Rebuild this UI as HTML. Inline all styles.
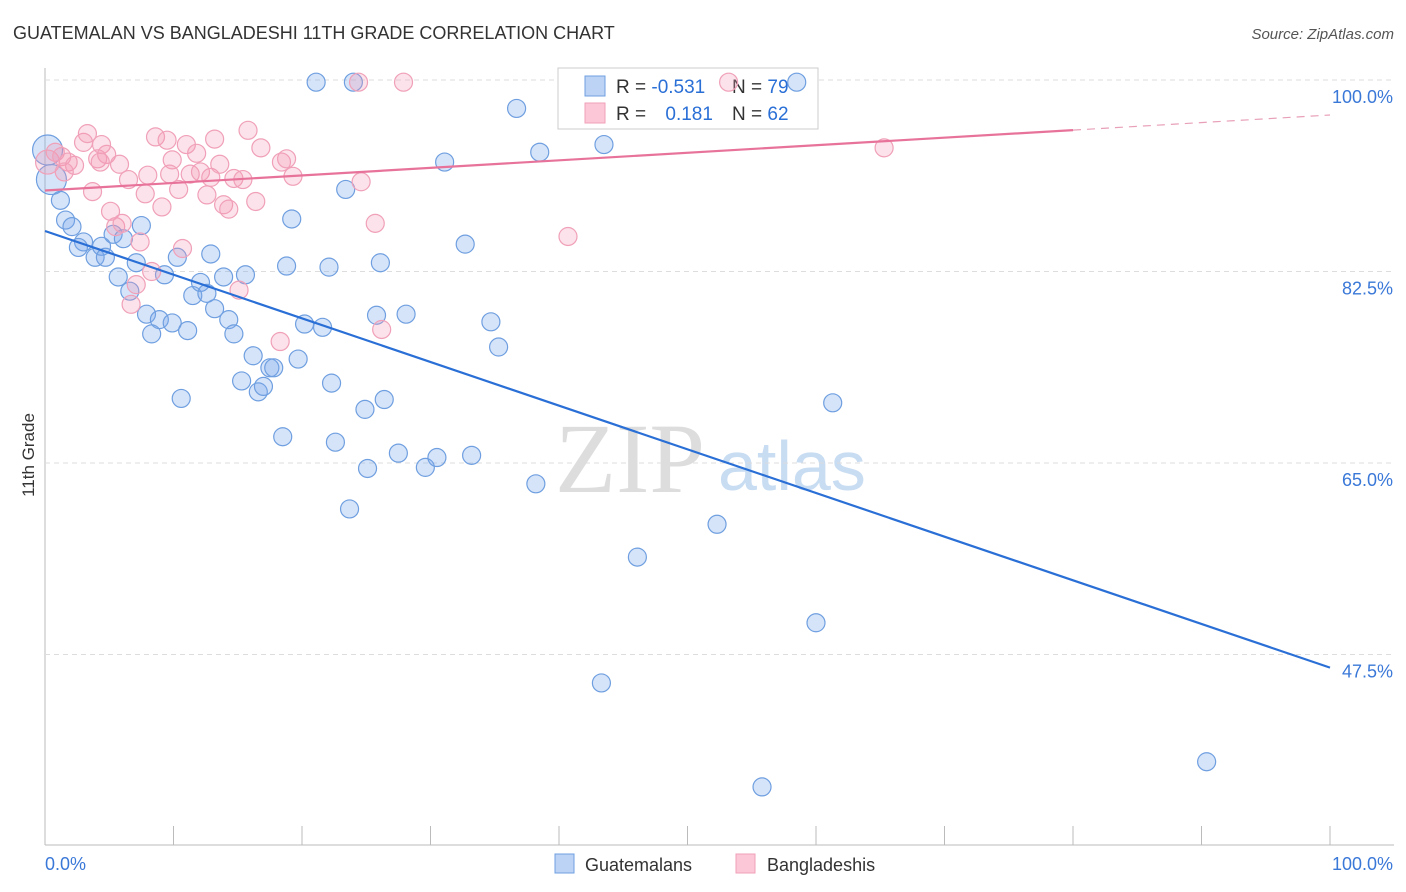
<!DOCTYPE html>
<html><head><meta charset="utf-8"><style>
body{margin:0;background:#fff;font-family:"Liberation Sans",sans-serif;}
#c{position:relative;width:1406px;height:892px;overflow:hidden}
</style></head><body>
<div id="c">
<svg id="s" width="1406" height="892" xmlns="http://www.w3.org/2000/svg">
<text x="13" y="39" font-size="18" fill="#333">GUATEMALAN VS BANGLADESHI 11TH GRADE CORRELATION CHART</text>
<text x="1394" y="39" font-size="15" fill="#555" font-style="italic" text-anchor="end">Source: ZipAtlas.com</text>
<text x="34" y="455" font-size="17" fill="#333" text-anchor="middle" transform="rotate(-90 34 455)">11th Grade</text>
<text x="555" y="492" font-size="100" fill="#ddd" font-family="Liberation Serif">ZIP</text>
<text x="718" y="490" font-size="70" fill="#c8dcf2">atlas</text>
<g id="grid"></g>
<rect x="558" y="68" width="260" height="61" fill="#fff" stroke="#ccc"/>
<rect x="585" y="76" width="20" height="20" fill="#bcd3f5" stroke="#6f9fe0"/>
<rect x="585" y="103" width="20" height="20" fill="#fcc8d8" stroke="#f0a0b8"/>
<text x="616" y="93" font-size="19" fill="#333">R = <tspan fill="#2a6fd6">-0.531</tspan></text>
<text x="732" y="93" font-size="19" fill="#333">N = <tspan fill="#2a6fd6">79</tspan></text>
<text x="616" y="120" font-size="19" fill="#333">R = <tspan fill="#2a6fd6" dx="14">0.181</tspan></text>
<text x="732" y="120" font-size="19" fill="#333">N = <tspan fill="#2a6fd6">62</tspan></text>
<g id="pts"></g><g id="lines"></g>
<rect x="555" y="854" width="19" height="19" fill="#bcd3f5" stroke="#6f9fe0"/>
<text x="585" y="871" font-size="18" fill="#333">Guatemalans</text>
<rect x="736" y="854" width="19" height="19" fill="#fcc8d8" stroke="#f0a0b8"/>
<text x="767" y="871" font-size="18" fill="#333">Bangladeshis</text>
</svg></div>
<script>
const blueX=[0.2,0.5,1.2,1.6,2.1,3.0,2.6,3.9,4.4,4.7,5.3,6.1,7.5,5.7,6.6,7.1,7.9,8.3,8.9,9.3,9.9,10.3,10.6,11.1,11.5,12.1,12.6,12.9,13.2,13.9,14.3,14.7,15.3,15.6,16.2,16.6,17.0,17.5,17.8,18.5,18.8,19.2,19.7,20.2,21.1,21.6,22.1,22.3,22.6,23.4,23.7,24.0,24.9,25.1,25.8,26.1,26.4,27.5,28.1,29.6,30.5,31.1,32.7,33.2,34.7,35.3,36.7,38.2,38.5,43.3,43.5,46.1,52.3,55.8,58.5,60.0,61.3,90.4];
const blueY=[93.6,90.9,89.0,87.2,86.6,85.2,84.7,83.8,84.8,83.8,85.9,85.5,86.7,82.0,80.7,83.3,78.6,76.8,78.1,82.2,77.8,83.8,70.9,77.1,80.3,81.5,80.5,84.1,79.1,82.0,78.1,76.8,72.5,82.2,74.8,71.5,72.0,73.7,73.7,67.4,83.0,87.3,74.5,77.7,99.8,77.4,82.9,72.3,66.9,90.0,60.8,99.8,69.9,64.5,78.5,83.3,70.8,65.9,78.6,64.6,65.5,92.5,85.0,65.7,77.9,75.6,97.4,63.1,93.4,44.9,94.1,56.4,59.4,35.4,99.8,50.4,70.5,37.7];
const pinkX=[0.2,0.8,1.3,1.8,2.3,3.0,3.3,3.7,4.1,4.4,4.8,5.1,5.5,5.8,6.0,6.5,7.1,7.4,6.7,7.8,8.0,8.3,8.6,9.1,9.5,9.9,10.4,10.7,11.0,11.3,11.8,12.1,12.6,12.9,13.2,13.6,13.9,14.3,14.7,15.1,15.4,15.8,16.4,16.8,18.3,18.4,18.8,19.3,24.4,24.6,25.7,26.2,27.9,40.7,53.2,65.3,9.7,1.5,4.3];
const pinkY=[92.5,93.4,93.0,92.5,92.2,94.3,95.1,89.8,92.8,94.1,93.2,88.0,86.6,92.3,86.9,90.9,81.3,85.2,79.5,89.6,91.3,82.5,94.8,88.4,94.5,92.7,90.0,84.6,94.1,91.4,93.3,91.6,89.5,91.1,94.6,92.3,88.6,88.2,91.0,80.8,90.9,95.4,88.9,93.8,76.1,92.5,92.8,91.2,99.8,90.7,86.9,77.2,99.8,85.7,99.8,93.8,91.4,91.6,92.5];
const blueTrend=[86.2,46.3];
const pinkTrend=[89.9,96.8];
const yTicks=[100,82.5,65,47.5];
const yTickLabels=["100.0%","82.5%","65.0%","47.5%"];
const xTicks=[0,10,20,30,40,50,60,70,80,90,100];
const NS='http://www.w3.org/2000/svg';
const X=v=>45+v*12.85, Y=v=>80+(100-v)*191.5/17.5;
function mk(t,a,p){const e=document.createElementNS(NS,t);for(const k in a)e.setAttribute(k,a[k]);p.appendChild(e);return e;}
const g=document.getElementById('grid'),pts=document.getElementById('pts'),ln=document.getElementById('lines');
let e=mk('line',{x1:45,y1:68,x2:45,y2:845,stroke:'#bbb'},g);

e=mk('line',{x1:45,y1:845,x2:1394,y2:845,stroke:'#bbb'},g);

yTicks.forEach((v,i)=>{
 e=mk('line',{x1:45,y1:Y(v),x2:1394,y2:Y(v),stroke:'#ddd','stroke-dasharray':'5,4'},g);
 
 e=mk('text',{x:1393,y:Y(v)+23,'font-size':18,fill:'#3a78d8','text-anchor':'end'},g);e.textContent=yTickLabels[i];
 
});
xTicks.forEach(v=>{e=mk('line',{x1:X(v),y1:826,x2:X(v),y2:845,stroke:'#bbb'},g);
 });
e=mk('text',{x:45,y:870,'font-size':18,fill:'#3a78d8'},g);e.textContent='0.0%';

e=mk('text',{x:1393,y:870,'font-size':18,fill:'#3a78d8','text-anchor':'end'},g);e.textContent='100.0%';

blueX.forEach((x,i)=>{e=mk('circle',{cx:X(x),cy:Y(blueY[i]),r:i<2?15:9,fill:'rgba(120,165,235,0.3)',stroke:'#6f9fe0','stroke-width':1.2},pts);
 });
pinkX.forEach((x,i)=>{e=mk('circle',{cx:X(x),cy:Y(pinkY[i]),r:i==0?12:9,fill:'rgba(245,150,180,0.28)',stroke:'#f0a0b8','stroke-width':1.2},pts);
 });
e=mk('line',{x1:X(0),y1:Y(blueTrend[0]),x2:X(100),y2:Y(blueTrend[1]),stroke:'#2a6fd6','stroke-width':2.2},ln);

const pm=pinkTrend[0]+(pinkTrend[1]-pinkTrend[0])*0.8;
e=mk('line',{x1:X(0),y1:Y(pinkTrend[0]),x2:X(80),y2:Y(pm),stroke:'#e8739a','stroke-width':2.2},ln);

e=mk('line',{x1:X(80),y1:Y(pm),x2:X(100),y2:Y(pinkTrend[1]),stroke:'#e8a0b8','stroke-width':1.2,'stroke-dasharray':'8,6'},ln);

</script>
</body></html>
